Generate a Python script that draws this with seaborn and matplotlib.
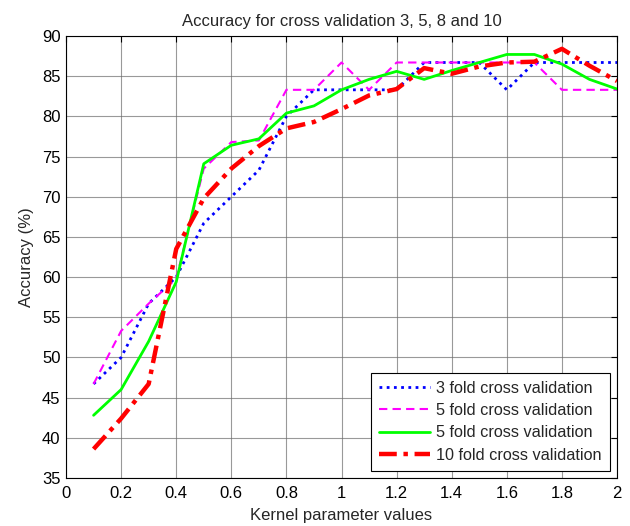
import matplotlib
matplotlib.use("Agg")
import matplotlib.pyplot as plt
import seaborn as sns

# Kernel parameter values (x axis)
kernel_values = [0.1, 0.2, 0.3, 0.4, 0.5, 0.6, 0.7, 0.8, 0.9, 1.0,
                 1.1, 1.2, 1.3, 1.4, 1.5, 1.6, 1.7, 1.8, 1.9, 2.0]

# Accuracy (%) for each cross validation setting
acc_3fold = [46.7, 50.0, 56.7, 60.0, 66.7, 70.0, 73.3, 80.0, 83.3, 83.3,
             83.3, 83.3, 86.7, 86.7, 86.7, 83.3, 86.7, 86.7, 86.7, 86.7]
acc_5fold_a = [46.7, 53.3, 56.7, 59.8, 73.5, 76.8, 77.0, 83.3, 83.3, 86.7,
               83.3, 86.7, 86.7, 86.7, 86.7, 86.7, 86.7, 83.3, 83.3, 83.3]
acc_5fold_b = [42.8, 46.0, 52.0, 59.4, 74.1, 76.4, 77.2, 80.4, 81.3, 83.3,
               84.6, 85.6, 84.6, 85.7, 86.7, 87.7, 87.7, 86.5, 84.6, 83.4]
acc_10fold = [38.6, 42.4, 46.7, 63.5, 69.8, 73.5, 76.3, 78.5, 79.3, 80.9,
              82.6, 83.4, 86.0, 85.3, 86.2, 86.7, 86.8, 88.4, 86.3, 84.4]

series_labels = ["3 fold cross validation", "5 fold cross validation",
                 "5 fold cross validation", "10 fold cross validation"]
x_tick_labels = ["0", "0.2", "0.4", "0.6", "0.8", "1", "1.2", "1.4",
                 "1.6", "1.8", "2"]


def main():
    sns.set_style("white")
    plt.rcParams["font.family"] = ["Liberation Sans", "DejaVu Sans"]

    fig = plt.figure(figsize=(6.3, 5.26), dpi=100)
    ax = fig.add_axes([0.1048, 0.0913, 0.8746, 0.8403])

    # One line per cross validation setting, MATLAB-like styles
    sns.lineplot(x=kernel_values, y=acc_3fold, ax=ax, color="#0000ff",
                 linestyle=(0, (1, 1.6)), linewidth=2.0, label=series_labels[0])
    sns.lineplot(x=kernel_values, y=acc_5fold_a, ax=ax, color="#ff00ff",
                 linestyle=(0, (4, 2.5)), linewidth=1.5, label=series_labels[1])
    sns.lineplot(x=kernel_values, y=acc_5fold_b, ax=ax, color="#00ff00",
                 linestyle="-", linewidth=2.0, label=series_labels[2])
    sns.lineplot(x=kernel_values, y=acc_10fold, ax=ax, color="#ff0000",
                 linestyle=(0, (4, 1.5, 1, 1.5)), linewidth=3.2, label=series_labels[3])

    ax.set_xlim(0, 2)
    ax.set_ylim(35, 90)
    ax.set_xticks([0, 0.2, 0.4, 0.6, 0.8, 1, 1.2, 1.4, 1.6, 1.8, 2])
    ax.set_xticklabels(x_tick_labels)
    ax.set_yticks(range(35, 91, 5))

    ax.grid(True, color="#6e6e6e", linewidth=0.8, alpha=0.7)
    ax.tick_params(direction="in", length=4, width=0.8, top=True, right=True,
                   labelsize=12, colors="black")
    ax.tick_params(axis="x", pad=6)
    ax.tick_params(axis="y", pad=4)
    for spine in ax.spines.values():
        spine.set_color("black")
        spine.set_linewidth(0.8)

    ax.set_title("Accuracy for cross validation 3, 5, 8 and 10", fontsize=12, pad=7)
    ax.set_xlabel("Kernel parameter values", fontsize=12, labelpad=5)
    ax.set_ylabel("Accuracy (%)", fontsize=12, labelpad=6)

    leg = ax.legend(loc="lower right", bbox_to_anchor=(0.987, 0.016),
                    fontsize=11.7, frameon=True, fancybox=False, framealpha=1,
                    edgecolor="black", borderpad=0.5, labelspacing=0.45,
                    handlelength=3.1, handletextpad=0.4, borderaxespad=0.0)
    leg.get_frame().set_linewidth(0.8)

    fig.savefig("out.png", dpi=100)


if __name__ == "__main__":
    main()
